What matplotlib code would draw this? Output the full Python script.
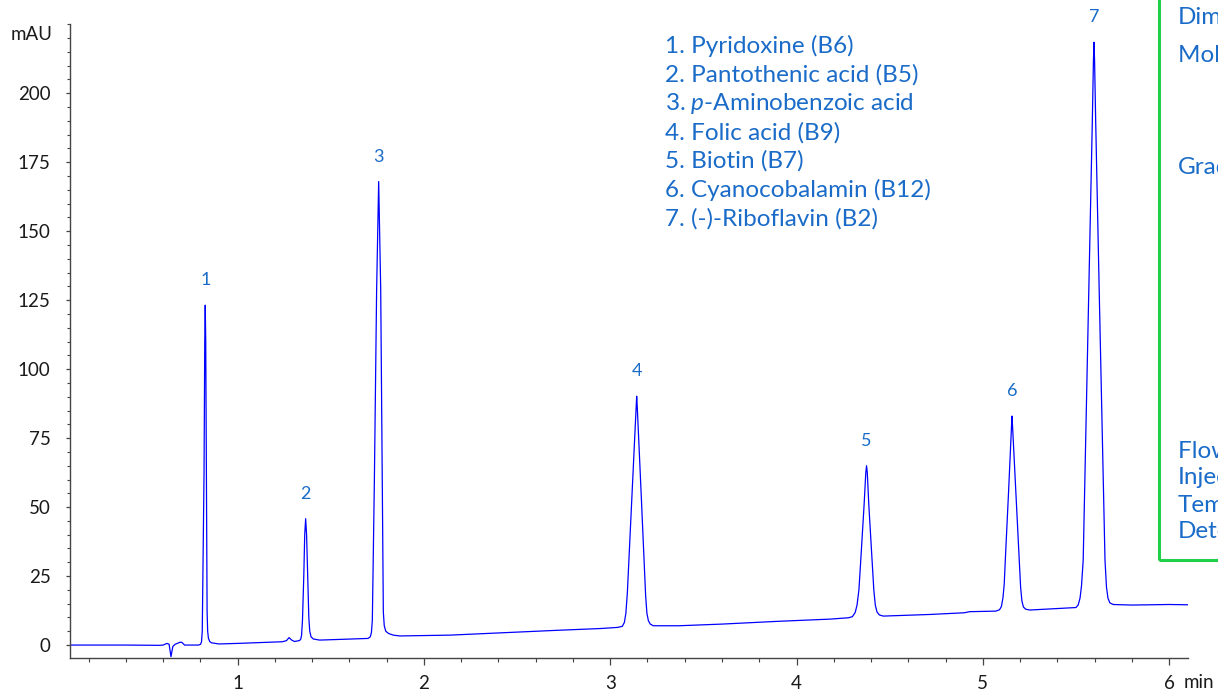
import matplotlib.pyplot as plt
from matplotlib.patches import Rectangle
from matplotlib.ticker import MultipleLocator

plt.rcParams['font.family'] = ['Lato', 'DejaVu Sans']
plt.rcParams['mathtext.fontset'] = 'custom'
plt.rcParams['mathtext.it'] = 'Lato:italic'
plt.rcParams['mathtext.rm'] = 'Lato'

# chromatogram trace (min, mAU)
time_min = [
    0.10, 0.40, 0.58, 0.600, 0.620, 0.632, 0.642, 0.652, 0.665, 0.690, 0.700, 0.715, 0.790,
    # peak 1
    0.801, 0.806, 0.810, 0.8195, 0.8234, 0.826, 0.8286, 0.8325, 0.836, 0.839, 0.843, 0.850, 0.860,
    0.90, 1.00, 1.240, 1.262, 1.276, 1.290, 1.305, 1.330,
    # peak 2
    1.338, 1.343, 1.348, 1.355, 1.360, 1.365, 1.370, 1.376, 1.382, 1.387, 1.394, 1.406, 1.44,
    # peak 3
    1.700, 1.712, 1.718, 1.723, 1.734, 1.746, 1.757, 1.768, 1.776, 1.782, 1.787, 1.795, 1.810,
    1.835, 1.870,
    2.14, 2.40, 2.70, 2.95, 3.04,
    # peak 4
    3.065, 3.076, 3.084, 3.092, 3.117, 3.134, 3.139, 3.142, 3.145, 3.150, 3.166, 3.190, 3.197,
    3.205, 3.215, 3.231,
    3.37, 3.60, 3.90, 4.18, 4.28,
    # peak 5
    4.300, 4.315, 4.325, 4.335, 4.347, 4.363, 4.372, 4.376, 4.380, 4.388, 4.404, 4.415, 4.423,
    4.432, 4.445, 4.466,
    4.72, 4.90, 4.93, 5.07,
    # peak 6
    5.090, 5.100, 5.108, 5.115, 5.121, 5.138, 5.151, 5.155, 5.157, 5.159, 5.163, 5.178, 5.196,
    5.203, 5.210, 5.218, 5.230, 5.253,
    5.50,
    # peak 7
    5.512, 5.522, 5.530, 5.539, 5.568, 5.588, 5.594, 5.597, 5.600, 5.606, 5.626, 5.656, 5.664,
    5.672, 5.682, 5.700,
    5.80, 6.00, 6.10,
]
signal_mau = [
    0.0, 0.0, -0.1, 0.0, 0.6, 0.3, -4.2, -0.5, 0.3, 1.0, 1.0, 0.0, 0.0,
    0.3, 1.2, 5.0, 62.0, 110.0, 123.2, 110.0, 62.0, 12.0, 5.0, 2.5, 1.3, 0.8,
    0.4, 0.6, 1.2, 1.6, 2.7, 1.8, 1.3, 1.6,
    2.0, 3.5, 9.0, 25.0, 40.0, 45.8, 40.0, 25.0, 10.0, 5.0, 3.0, 2.2, 1.8,
    2.4, 3.0, 4.5, 9.0, 60.0, 128.6, 168.0, 128.6, 60.0, 12.0, 7.0, 5.0, 4.2,
    3.6, 3.3,
    3.6, 4.4, 5.3, 6.0, 6.4,
    6.8, 8.2, 11.5, 19.0, 55.0, 79.0, 86.5, 90.2, 86.5, 79.0, 55.0, 18.0, 11.5,
    8.8, 7.6, 7.0,
    7.0, 7.6, 8.6, 9.4, 9.9,
    10.3, 11.8, 14.5, 20.0, 33.0, 51.0, 62.5, 65.0, 62.5, 51.0, 33.0, 20.0, 14.5,
    12.0, 10.9, 10.5,
    11.1, 11.7, 12.1, 12.3,
    12.8, 14.0, 17.0, 22.0, 31.0, 55.0, 75.0, 80.5, 83.0, 80.5, 75.0, 55.0, 31.0,
    21.0, 16.0, 13.8, 13.0, 12.7,
    13.6,
    14.5, 17.0, 21.5, 30.8, 125.0, 190.0, 212.0, 218.5, 212.0, 190.0, 125.0, 30.8, 21.0,
    17.0, 15.3, 14.7,
    14.5, 14.7, 14.6,
]

peak_numbers = ['1', '2', '3', '4', '5', '6', '7']
peak_times = [0.826, 1.365, 1.757, 3.142, 4.376, 5.157, 5.597]
peak_heights = [123.2, 45.8, 168.0, 90.2, 65.0, 83.0, 218.5]

compounds = [
    '1. Pyridoxine (B6)',
    '2. Pantothenic acid (B5)',
    '3. $\\mathit{p}$-Aminobenzoic acid',
    '4. Folic acid (B9)',
    '5. Biotin (B7)',
    '6. Cyanocobalamin (B12)',
    '7. (-)-Riboflavin (B2)',
]

conditions = ['Dimensions:', 'Mobile phase:', 'Gradient:', 'Flow rate:',
              'Injection:', 'Temperature:', 'Detection:']

x_ticks = [1, 2, 3, 4, 5, 6]
y_ticks = [0, 25, 50, 75, 100, 125, 150, 175, 200]

W, H = 1218, 692
BLUE_TXT = '#1a6cc8'
GREEN = '#1fd14a'
TICK_FS = 13.5

fig = plt.figure(figsize=(W / 100, H / 100), dpi=100)
ax = fig.add_axes([70 / W, 1 - 658.3 / H, 1117.7 / W, 634 / H])

ax.plot(time_min, signal_mau, color='#0000ff', lw=0.9)

for n, t, h in zip(peak_numbers, peak_times, peak_heights):
    ax.annotate(n, xy=(t, h), xytext=(0, 18), textcoords='offset points',
                ha='center', va='center', fontsize=13, color=BLUE_TXT)

ax.set_xlim(0.1, 6.1)
ax.set_ylim(-4.8, 225)
ax.set_xticks(x_ticks)
ax.set_yticks(y_ticks)
ax.xaxis.set_minor_locator(MultipleLocator(0.2))
ax.yaxis.set_minor_locator(MultipleLocator(5))

ax.spines['right'].set_visible(False)
ax.spines['top'].set_visible(False)
for s in ('left', 'bottom'):
    ax.spines[s].set_color('#444444')
    ax.spines[s].set_linewidth(1.0)

ax.tick_params(axis='x', which='major', length=5, width=0.9, pad=7,
               labelsize=TICK_FS, colors='#444444', labelcolor='#1a1a1a')
ax.tick_params(axis='x', which='minor', length=3, width=0.8, colors='#444444')
ax.tick_params(axis='y', which='major', length=3, width=0.9, pad=11,
               labelsize=TICK_FS, colors='#444444', labelcolor='#1a1a1a')
ax.tick_params(axis='y', which='minor', length=2, width=0.8, colors='#444444')

fig.text(1184 / W, 1 - 682 / H, 'min', ha='left', va='center', fontsize=TICK_FS, color='#1a1a1a')
fig.text(52 / W, 1 - 35 / H, 'mAU', ha='right', va='center', fontsize=TICK_FS, color='#1a1a1a')

# compound list
for i, name in enumerate(compounds):
    fig.text(665 / W, 1 - (46 + 28.8 * i) / H, name, ha='left', va='center',
             fontsize=17.5, color=BLUE_TXT)

# conditions box (runs past the right edge, as in the original)
fig.add_artist(Rectangle((1159 / W, 1 - 560 / H), 0.2, 1.0, transform=fig.transFigure,
                         fill=False, edgecolor=GREEN, lw=2.2, clip_on=False))
for txt, y in zip(conditions, [18, 55, 167, 452, 478, 505, 532]):
    fig.text(1178 / W, 1 - y / H, txt, ha='left', va='center', fontsize=17.5, color=BLUE_TXT)

plt.savefig('out.png', dpi=100)
